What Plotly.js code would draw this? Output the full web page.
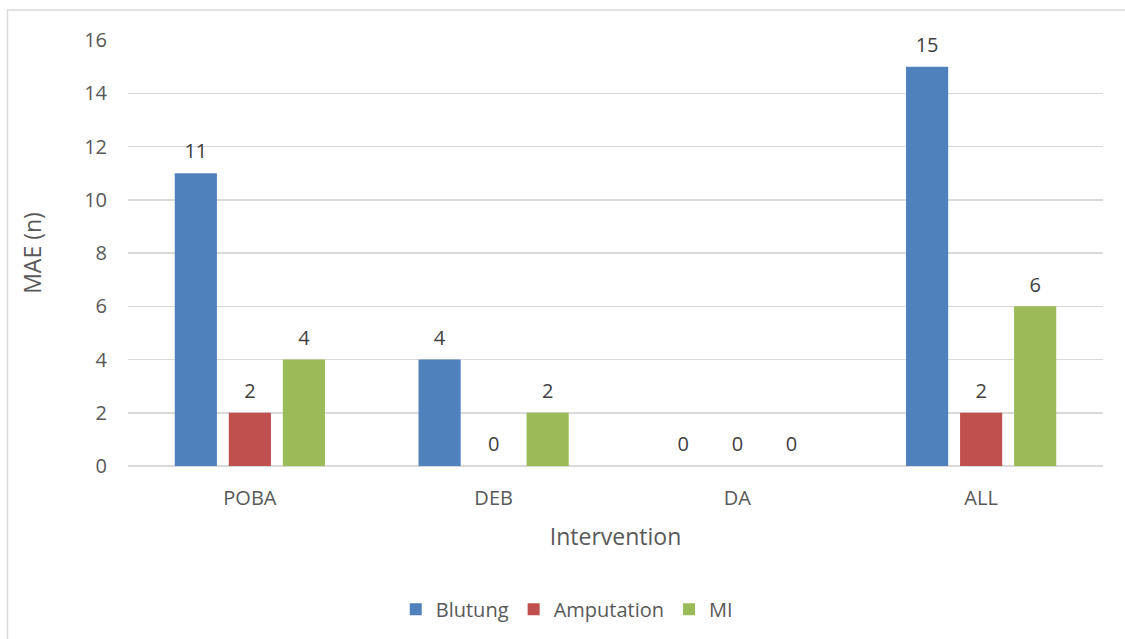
<!DOCTYPE html>
<html>
<head>
<meta charset="utf-8">
<script src="https://cdn.plot.ly/plotly-3.0.1.min.js"></script>
<style>
  html, body { margin: 0; padding: 0; background: #ffffff; }
  #chart { width: 1125px; height: 639px; }
</style>
</head>
<body>
<div id="chart"></div>
<script>
// Major adverse events by type of intervention
const interventions = ["POBA", "DEB", "DA", "ALL"];
const blutung = [11, 4, 0, 15];
const amputation = [2, 0, 0, 2];
const mi = [4, 2, 0, 6];

const seriesNames = ["Blutung", "Amputation", "MI"];
const seriesValues = [blutung, amputation, mi];
const seriesColors = ["#4F81BD", "#C0504D", "#9BBB59"];

const FONT = "Open Sans, DejaVu Sans, sans-serif";

const traces = [];
seriesValues.forEach((vals, i) => {
  traces.push({
    type: "bar",
    name: seriesNames[i],
    x: interventions,
    y: vals,
    offsetgroup: "s" + i,
    marker: { color: seriesColors[i], line: { width: 0 } },
    hoverinfo: "x+y+name"
  });
});
// Value labels above each bar, in the same offset group as their bar
seriesValues.forEach((vals, i) => {
  traces.push({
    type: "scatter",
    mode: "markers+text",
    x: interventions,
    y: vals,
    text: vals.map(String),
    textposition: "top center",
    textfont: { family: FONT, size: 20, color: "#404040" },
    marker: { size: 14, opacity: 0 },
    offsetgroup: "s" + i,
    showlegend: false,
    hoverinfo: "skip",
    cliponaxis: false
  });
});

const layout = {
  width: 1125,
  height: 639,
  paper_bgcolor: "#ffffff",
  plot_bgcolor: "#ffffff",
  margin: { l: 128, r: 22, t: 40, b: 172 },
  barmode: "group",
  bargap: 0.335,
  bargroupgap: 0.22,
  scattermode: "group",
  scattergap: 0.335,
  font: { family: FONT, color: "#595959", size: 20 },
  xaxis: {
    type: "category",
    showgrid: false,
    showline: false,
    zeroline: false,
    ticks: "",
    ticklabelstandoff: 18,
    tickfont: { family: FONT, size: 20, color: "#595959" },
    title: { text: "Intervention", font: { family: FONT, size: 23, color: "#595959" }, standoff: 18 }
  },
  yaxis: {
    range: [0, 16],
    dtick: 2,
    showgrid: true,
    gridcolor: "#D9D9D9",
    gridwidth: 1.5,
    zeroline: true,
    zerolinecolor: "#D9D9D9",
    zerolinewidth: 1.5,
    showline: false,
    ticks: "",
    ticklabelstandoff: 20,
    tickfont: { family: FONT, size: 20, color: "#595959" },
    title: { text: "MAE (n)", font: { family: FONT, size: 23, color: "#595959" }, standoff: 36 }
  },
  legend: {
    orientation: "h",
    x: 0.45,
    xanchor: "center",
    y: -0.333,
    yanchor: "middle",
    font: { family: FONT, size: 20, color: "#595959" },
    traceorder: "normal"
  },
  shapes: [{
    type: "rect",
    xref: "paper", yref: "paper",
    x0: -0.1236, x1: 1.04,
    y0: -0.43, y1: 1.0703,
    line: { color: "#D9D9D9", width: 1.5 },
    fillcolor: "rgba(0,0,0,0)",
    layer: "below"
  }],
  showlegend: true
};

Plotly.newPlot("chart", traces, layout, { displayModeBar: false, staticPlot: true });
</script>
</body>
</html>
